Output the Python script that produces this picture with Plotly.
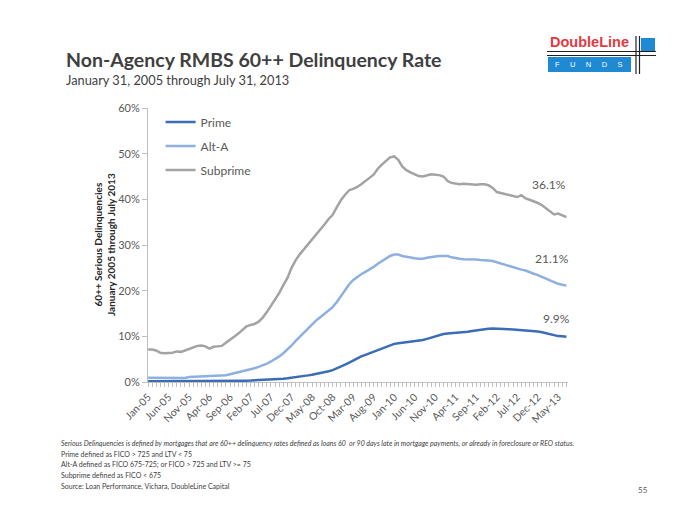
import plotly.graph_objects as go
import pandas as pd

months = pd.date_range("2005-01-01", periods=103, freq="MS")

prime = [0.15, 0.15, 0.15, 0.15, 0.15, 0.15, 0.15, 0.15, 0.15, 0.15,
         0.17, 0.17, 0.17, 0.18, 0.18, 0.18, 0.19, 0.19, 0.2, 0.2,
         0.2, 0.22, 0.25, 0.27, 0.3, 0.32, 0.35, 0.38, 0.4, 0.45,
         0.5, 0.55, 0.62, 0.7, 0.8, 0.9, 1.0, 1.15, 1.3, 1.45,
         1.6, 1.75, 1.9, 2.1, 2.35, 2.6, 2.95, 3.35, 3.8, 4.25,
         4.7, 5.2, 5.6, 5.95, 6.3, 6.65, 7.0, 7.4, 7.8, 8.1,
         8.35, 8.5, 8.6, 8.7, 8.8, 8.9, 9.05, 9.2, 9.45, 9.75,
         10.05, 10.3, 10.5, 10.6, 10.65, 10.7, 10.8, 10.9, 11.0, 11.15,
         11.3, 11.45, 11.55, 11.65, 11.7, 11.7, 11.65, 11.6, 11.55, 11.5,
         11.45, 11.4, 11.3, 11.2, 11.15, 11.05, 10.9, 10.7, 10.45, 10.2,
         10.05, 10.0, 9.9]

alt_a = [0.95, 0.95, 0.9, 0.9, 0.85, 0.85, 0.85, 0.85, 0.85, 0.9,
         1.1, 1.15, 1.2, 1.25, 1.25, 1.25, 1.3, 1.3, 1.35, 1.5,
         1.7, 1.9, 2.2, 2.4, 2.6, 2.8, 3.0, 3.3, 3.6, 4.0,
         4.5, 5.0, 5.6, 6.3, 7.1, 8.0, 9.0, 9.9, 10.9, 11.8,
         12.7, 13.5, 14.2, 15.0, 15.7, 16.4, 17.5, 18.8, 20.2, 21.4,
         22.3, 23.0, 23.6, 24.1, 24.6, 25.2, 25.9, 26.5, 27.1, 27.6,
         27.9, 27.9, 27.6, 27.4, 27.3, 27.1, 27.0, 27.0, 27.2, 27.4,
         27.5, 27.6, 27.6, 27.6, 27.3, 27.1, 27.0, 26.9, 26.9, 26.8,
         26.8, 26.7, 26.7, 26.6, 26.5, 26.2, 26.0, 25.7, 25.4, 25.1,
         24.8, 24.6, 24.4, 24.0, 23.7, 23.4, 23.0, 22.7, 22.3, 21.8,
         21.5, 21.3, 21.1]

subprime = [7.1, 7.1, 6.9, 6.4, 6.3, 6.3, 6.4, 6.7, 6.6, 6.9,
            7.2, 7.5, 7.9, 8.0, 7.8, 7.3, 7.7, 7.8, 7.9, 8.6,
            9.2, 9.9, 10.6, 11.4, 12.2, 12.5, 12.7, 13.2, 14.1, 15.3,
            16.7, 18.0, 19.5, 21.2, 22.8, 25.0, 26.7, 28.0, 29.0, 30.3,
            31.3, 32.4, 33.3, 34.5, 35.7, 36.6, 38.3, 39.8, 41.0, 42.0,
            42.3, 42.7, 43.3, 44.1, 44.7, 45.4, 46.7, 47.6, 48.5, 49.2,
            49.4, 48.6, 47.2, 46.4, 45.9, 45.4, 45.1, 45.0, 45.2, 45.5,
            45.4, 45.3, 45.0, 44.0, 43.6, 43.4, 43.3, 43.4, 43.3, 43.2,
            43.2, 43.3, 43.3, 43.1, 42.5, 41.6, 41.4, 41.2, 41.0, 40.8,
            40.5, 40.9, 40.2, 39.9, 39.6, 39.2, 38.7, 38.0, 37.3, 36.7,
            36.9, 36.5, 36.1]

series_names = ["Prime", "Alt-A", "Subprime"]
series_values = [prime, alt_a, subprime]
series_colors = ["#3a6db5", "#8db0e0", "#a3a3a3"]
end_labels = ["9.9%", "21.1%", "36.1%"]
end_shift = [18, 27, 33]
end_xshift = [-10, -14, -17]

footnotes = [
    "<i>Serious Delinquencies is defined by mortgages that are 60++ delinquency rates defined as loans 60  or 90 days late in mortgage payments, or already in foreclosure or REO status.</i>",
    "Prime defined as FICO > 725 and LTV < 75",
    "Alt-A defined as FICO 675-725; or FICO > 725 and LTV >= 75",
    "Subprime defined as FICO < 675",
    "Source: Loan Performance, Vichara, DoubleLine Capital",
]

OFF = 8  # page body margin
W, H = 700 - OFF, 525 - OFF
L, R, T, B = 148, 568, 108, 382  # screen pixel positions of plot area

def px(x):
    return (x - L) / (R - L)

def py(y):
    return (B - y) / (B - T)

fig = go.Figure()
for name, vals, col in zip(series_names, series_values, series_colors):
    fig.add_trace(go.Scatter(
        x=months, y=[v / 100 for v in vals], name=name, mode="lines",
        line=dict(color=col, width=2.5), legendgroup=name,
    ))

for vals, lab, ys, xs in zip(series_values, end_labels, end_shift, end_xshift):
    fig.add_annotation(x=months[-1], y=vals[-1] / 100, text=lab, showarrow=False,
                       yshift=ys, xshift=xs, font=dict(size=12, color="#595959"))

font = "Lato"
fig.add_annotation(xref="paper", yref="paper", x=px(64), y=py(59), xanchor="left", yanchor="middle",
                   text="<b>Non-Agency RMBS 60++ Delinquency Rate</b>", showarrow=False,
                   font=dict(size=19.5, color="#404040", family=font))
fig.add_annotation(xref="paper", yref="paper", x=px(64), y=py(80), xanchor="left", yanchor="middle",
                   text="January 31, 2005 through July 31, 2013", showarrow=False,
                   font=dict(size=12.8, color="#404040", family=font))
fig.add_annotation(xref="paper", yref="paper", x=px(104), y=py(245), xanchor="center", yanchor="middle",
                   text="<b>60++ Serious Delinquencies<br>January 2005 through July 2013</b>",
                   textangle=-90, showarrow=False,
                   font=dict(size=10, color="#262626", family=font))
for i, t in enumerate(footnotes):
    fig.add_annotation(xref="paper", yref="paper", x=px(59), y=py(443 + i * 10.8), xanchor="left",
                       yanchor="middle", text=t, showarrow=False, align="left",
                       font=dict(size=7, color="#404040", family=font))
fig.add_annotation(xref="paper", yref="paper", x=px(650), y=py(490), xanchor="right", yanchor="middle",
                   text="55", showarrow=False, font=dict(size=8, color="#595959", family=font))

# Logo
fig.add_shape(type="rect", xref="paper", yref="paper", x0=px(548), x1=px(631), y0=py(72), y1=py(57),
              fillcolor="#1f8ad3", line=dict(width=0))
fig.add_shape(type="rect", xref="paper", yref="paper", x0=px(641), x1=px(655), y0=py(52), y1=py(38),
              fillcolor="#1f8ad3", line=dict(width=0))
for yy in (51.5, 55.5):
    fig.add_shape(type="line", xref="paper", yref="paper", x0=px(547), x1=px(656), y0=py(yy), y1=py(yy),
                  line=dict(color="#222222", width=1.2))
for xx in (636, 639.5):
    fig.add_shape(type="line", xref="paper", yref="paper", x0=px(xx), x1=px(xx), y0=py(36), y1=py(74),
                  line=dict(color="#222222", width=1.2))
fig.add_annotation(xref="paper", yref="paper", x=px(589), y=py(42), xanchor="center", yanchor="middle",
                   text="<b>DoubleLine</b>", showarrow=False,
                   font=dict(size=14.5, color="#e23a3f", family="Liberation Sans"))
fig.add_annotation(xref="paper", yref="paper", x=px(589), y=py(64.5), xanchor="center", yanchor="middle",
                   text="F&nbsp;&nbsp;&nbsp;&nbsp;&nbsp;U&nbsp;&nbsp;&nbsp;&nbsp;&nbsp;N&nbsp;&nbsp;&nbsp;&nbsp;&nbsp;D&nbsp;&nbsp;&nbsp;&nbsp;&nbsp;S",
                   showarrow=False, font=dict(size=7.5, color="white", family="Liberation Sans"))

fig.update_layout(
    width=W, height=H,
    margin=dict(l=L - OFF, r=W - (R - OFF), t=T - OFF, b=H - (B - OFF), autoexpand=False),
    paper_bgcolor="white", plot_bgcolor="white",
    font=dict(family=font, color="#595959"),
    showlegend=True,
    legend=dict(x=0.03, y=1.002, xanchor="left", yanchor="top", bgcolor="rgba(0,0,0,0)",
                font=dict(size=12, color="#595959", family=font), traceorder="grouped",
                tracegroupgap=5, itemwidth=30),
    xaxis=dict(
        range=[months[0] - pd.Timedelta(days=1), months[-1] + pd.Timedelta(days=12)],
        tickformat="%b-%y", dtick="M5", tick0=months[0], tickangle=-45,
        showgrid=False, showline=True, linecolor="#bfbfbf", linewidth=1,
        ticks="outside", ticklen=4, tickcolor="#bfbfbf",
        minor=dict(dtick="M1", ticks="outside", ticklen=4, tickcolor="#bfbfbf", showgrid=False),
        tickfont=dict(size=10.5, color="#595959", family=font), zeroline=False,
    ),
    yaxis=dict(
        range=[0, 0.6], dtick=0.1, tickformat=".0%", showgrid=False,
        showline=True, linecolor="#bfbfbf", linewidth=1, ticks="outside", ticklen=5,
        tickcolor="#bfbfbf", tickfont=dict(size=11, color="#595959", family=font), zeroline=False,
    ),
)

fig.write_html("out.html")
